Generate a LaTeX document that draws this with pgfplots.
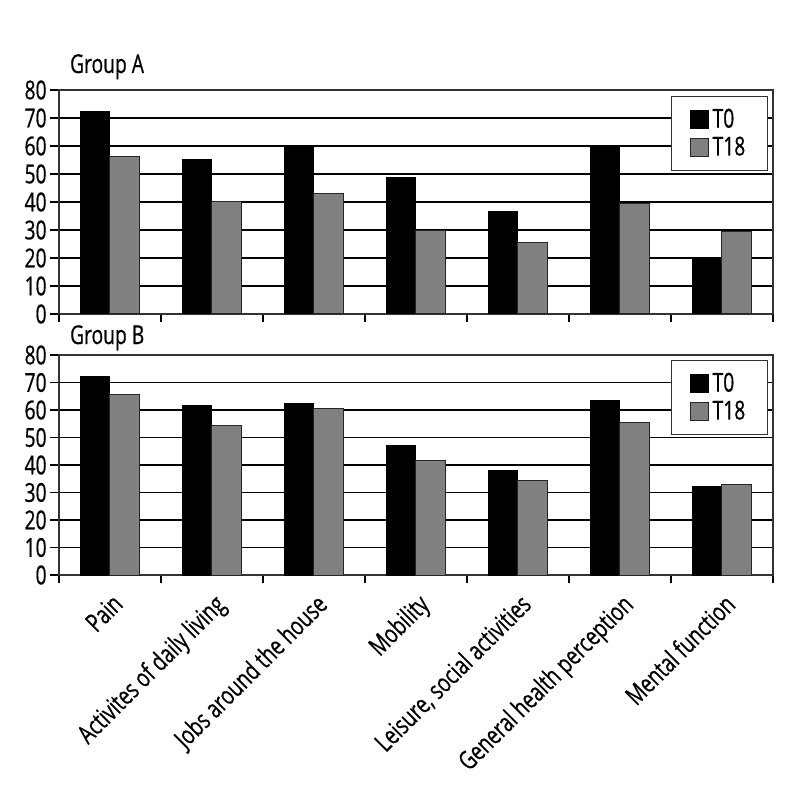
\documentclass[border=0pt]{standalone}
\usepackage{pgfplots}
\pgfplotsset{compat=1.18}
\usepackage{fontspec}
\setmainfont{Open Sans}[FakeStretch=0.74, FakeBold=0.6]

\pgfplotstableread{
x t0 t18
0 72.3 56.4
1 55.2 40.0
2 59.8 43.0
3 48.7 29.9
4 36.5 25.7
5 59.6 39.3
6 20.1 29.3
}\groupA
\pgfplotstableread{
x t0 t18
0 72.1 65.6
1 61.5 54.2
2 62.2 60.7
3 47.2 41.5
4 37.9 34.3
5 63.6 55.6
6 32.1 32.8
}\groupB

\definecolor{bargray}{RGB}{128,128,128}

\pgfplotsset{
  panel/.style={
    scale only axis, width=357pt,
    ybar=0pt, bar width=0.29,
    xmin=-0.5, xmax=6.5, ymin=0, ymax=80,
    ytick={0,10,...,80},
    xtick={0,...,6}, major x tick style={draw=none},
    minor xtick={-0.5,0.5,...,6.5},
    minor x tick style={black, line width=0.6pt},
    minor tick length=4pt,
    tick align=outside, major tick length=4.5pt,
    ymajorgrids, major grid style={black, line width=0.6pt},
    axis line style={black!80, line width=0.7pt},
    y tick style={black, line width=0.6pt},
    xtick pos=bottom, ytick pos=left,
    font=\fontsize{13}{15}\selectfont,
    yticklabel style={inner xsep=1.5pt},
    /pgf/number format/assume math mode=true,
    every axis title shift=0pt,
    title style={anchor=base west, inner sep=0pt, font=\fontsize{13}{15}\selectfont},
    legend cell align=left,
    legend style={draw=black!80, line width=0.7pt, anchor=north east,
      font=\fontsize{13}{15}\selectfont, inner xsep=9pt, inner ysep=4pt,
      row sep=-1pt},
    legend image code/.code={\draw[#1, line width=0.5pt] (0pt,-4.5pt) rectangle (9pt,4.5pt);},
  },
  t0/.style={fill=black, draw=black, line width=0.5pt},
  t18/.style={fill=bargray, draw=black!85, line width=0.5pt},
}

\begin{document}
\begin{tikzpicture}
\path (0,0) rectangle (400pt,400pt);

\begin{axis}[panel, at={(29.5pt,243pt)}, anchor=south west, height=112pt,
  xticklabels={},
  title={Group A}, title style={at={(0.015,1)}, yshift=8.5pt},
  legend style={at={(0.993,0.973)}}]
\addplot[t0] table[x=x, y=t0] {\groupA};
\addplot[t18] table[x=x, y=t18] {\groupA};
\legend{T0,T18}
\end{axis}

\begin{axis}[panel, at={(29.5pt,112.5pt)}, anchor=south west, height=110pt,
  xticklabels={Pain,Activites of daily living,Jobs around the house,Mobility,Leisure{,} social activities,General health perception,Mental function},
  x tick label style={rotate=45, anchor=north east, inner sep=1pt, yshift=-2pt, xshift=-1.5pt},
  title={Group B}, title style={at={(0.015,1)}, yshift=5.5pt},
  legend style={at={(0.993,0.977)}}]
\addplot[t0] table[x=x, y=t0] {\groupB};
\addplot[t18] table[x=x, y=t18] {\groupB};
\legend{T0,T18}
\end{axis}
\end{tikzpicture}
\end{document}
